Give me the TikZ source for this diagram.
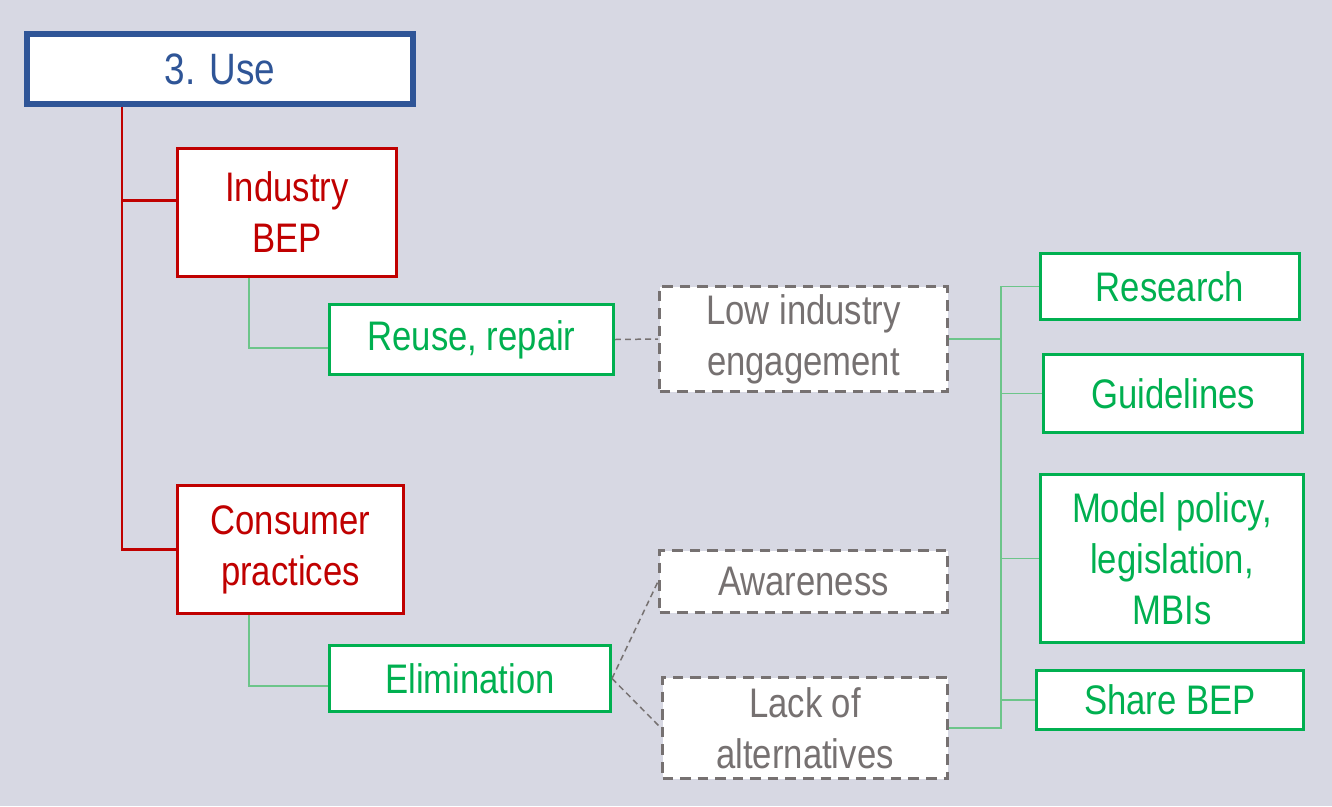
\documentclass[tikz,border=0pt]{standalone}
\usepackage{fontspec}
\setmainfont{Liberation Sans}[FakeStretch=0.84]
\definecolor{fond}{HTML}{D7D8E3}
\definecolor{bleu}{HTML}{2F5597}
\definecolor{rouge}{HTML}{C00000}
\definecolor{vert}{HTML}{00B050}
\definecolor{vertclair}{HTML}{6CC58A}
\definecolor{gris}{HTML}{767171}
\newlength\px
\setlength\px{0.02cm}
\begin{document}
\begin{tikzpicture}[x=1\px,y=-1\px,
		boite/.style={fill=white,align=center,inner sep=0pt,line width=1.7pt,font=\fontsize{23.5}{29}\selectfont},
		titre/.style={boite,draw=bleu,text=bleu,line width=3.4pt,font=\fontsize{25}{30}\selectfont},
		rougebox/.style={boite,draw=rouge,text=rouge},
		vertbox/.style={boite,draw=vert,text=vert},
		grisbox/.style={boite,draw=gris,text=gris,dash pattern=on 6pt off 4pt},
		lienrouge/.style={rouge,line width=1.7pt},
		lienvert/.style={vertclair,line width=1.1pt},
		liengris/.style={gris,line width=0.85pt,dash pattern=on 3.4pt off 2.3pt}]
				\fill[fond] (0,0) rectangle (1332,806);
					\node[titre,minimum width=386\px,minimum height=70\px] (use) at (220,69) {3. Use};
					\node[rougebox,minimum width=219\px,minimum height=128\px] (ind) at (287,212.5) {Industry\\BEP};
					\node[rougebox,minimum width=226\px,minimum height=128\px] (cons) at (290.5,549.5) {Consumer\\practices};
					\node[vertbox,minimum width=284\px,minimum height=70\px] (reuse) at (471.5,339.5) {Reuse, repair};
					\node[vertbox,minimum width=281\px,minimum height=66\px] (elim) at (470,678.5) {Elimination};
					\node[grisbox,minimum width=288\px,minimum height=105\px] (low) at (803.5,339) {Low industry\\engagement};
					\node[grisbox,minimum width=288\px,minimum height=62\px] (aware) at (803.5,581.5) {Awareness};
					\node[grisbox,minimum width=285\px,minimum height=101\px] (lack) at (805,728) {Lack of\\alternatives};
					\node[vertbox,minimum width=259\px,minimum height=66\px] (res) at (1170,286.5) {Research};
					\node[vertbox,minimum width=259\px,minimum height=78\px] (guide) at (1173,393.5) {Guidelines};
					\node[vertbox,minimum width=263\px,minimum height=168\px] (model) at (1172,558.5) {Model policy,\\legislation,\\MBIs};
					\node[vertbox,minimum width=267\px,minimum height=59\px] (share) at (1170,700) {Share BEP};
					\coordinate (tronc) at (122,0);
					\coordinate (branche) at (249,0);
					\coordinate (bus) at (1001,0);
					\draw[lienrouge] (use.south -| tronc) |- (cons.west);
					\draw[lienrouge] ([yshift=7pt]ind.west) -- ([yshift=7pt]ind.west -| tronc);
					\draw[lienvert] (ind.south -| branche) |- ([yshift=-5pt]reuse.west);
					\draw[lienvert] (cons.south -| branche) |- ([yshift=-4pt]elim.west);
					\draw[liengris] (reuse.east) -- (low.west);
					\draw[liengris] (elim.east) -- (aware.west);
					\draw[liengris] (elim.east) -- (lack.west);
					\draw[lienvert] (low.east) -- (low.east -| bus);
					\draw[lienvert] (lack.east) -- (lack.east -| bus) -- (res.west -| bus) -- (res.west);
					\draw[lienvert] (guide.west -| bus) -- (guide.west);
					\draw[lienvert] (model.west -| bus) -- (model.west);
					\draw[lienvert] (share.west -| bus) -- (share.west);
			\end{tikzpicture}
\end{document}
